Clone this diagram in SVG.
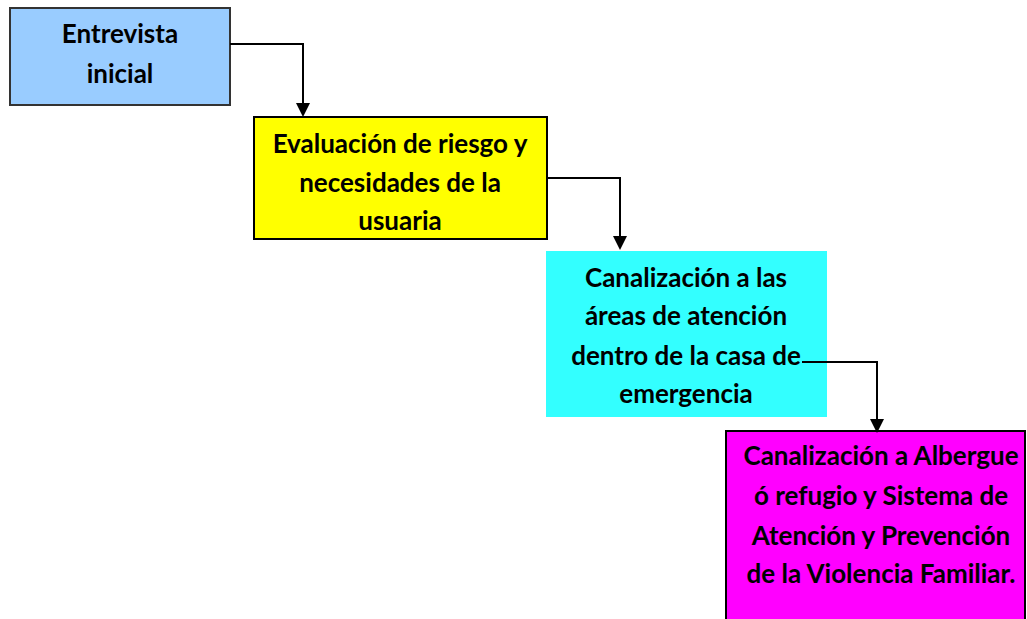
<svg xmlns="http://www.w3.org/2000/svg" width="1027" height="619" viewBox="0 0 1027 619">
<style>
text{font-family:Lato,"Open Sans","Liberation Sans",sans-serif;font-weight:bold;font-size:26px;fill:#000;text-anchor:middle}
.c{fill:none;stroke:#000;stroke-width:2}
.h{fill:#000;stroke:none}
</style>
<rect width="1027" height="619" fill="#fff"/>
<g id="n1">
<rect x="10" y="8" width="220" height="97" fill="#99CCFF" stroke="#333" stroke-width="2"/>
<text x="120" y="43">Entrevista</text>
<text x="120" y="83">inicial</text>
</g>
<g id="n2">
<rect x="254" y="117" width="293" height="122" fill="#FFFF00" stroke="#000" stroke-width="2"/>
<text x="400" y="153">Evaluación de riesgo y</text>
<text x="400" y="192">necesidades de la</text>
<text x="400" y="230">usuaria</text>
</g>
<g id="n3">
<rect x="546" y="251" width="281" height="166" fill="#33FFFF"/>
<text x="686" y="287">Canalización a las</text>
<text x="686" y="325">áreas de atención</text>
<text x="686" y="365">dentro de la casa de</text>
<text x="686" y="403">emergencia</text>
</g>
<g id="n4">
<rect x="726" y="431" width="299" height="200" fill="#FF00FF" stroke="#000" stroke-width="2"/>
<text x="881" y="465">Canalización a Albergue</text>
<text x="881" y="505">ó refugio y Sistema de</text>
<text x="881" y="545">Atención y Prevención</text>
<text x="881" y="583">de la Violencia Familiar.</text>
</g>
<g id="connectors">
<path class="c" d="M230,44 H303 V104"/>
<path class="h" d="M296,103 L310,103 L303,117 Z"/>
<path class="c" d="M547,178 H620 V237"/>
<path class="h" d="M613,236 L627,236 L620,250 Z"/>
<path class="c" d="M802,362 H877 V420"/>
<path class="h" d="M870,419 L884,419 L877,433 Z"/>
</g>
</svg>
